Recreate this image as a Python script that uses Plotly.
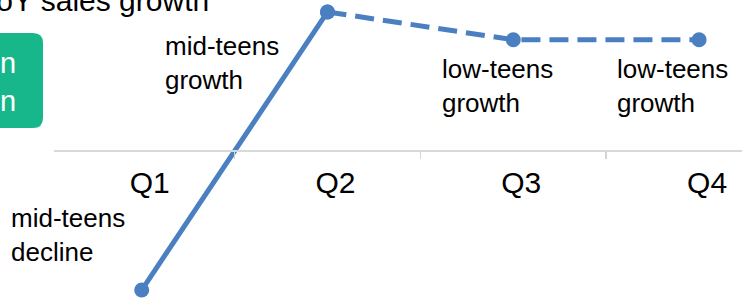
import plotly.graph_objects as go

W, H = 742, 298

# ---- data ----
quarters = ["Q1", "Q2", "Q3", "Q4"]
actual_q = ["Q1", "Q2"]
actual_growth = [-15, 15]          # mid-teens decline -> mid-teens growth
outlook_q = ["Q2", "Q3", "Q4"]
outlook_growth = [15, 12, 12]      # mid-teens -> low-teens -> low-teens
point_labels = ["mid-teens<br>decline", "mid-teens<br>growth",
                "low-teens<br>growth", "low-teens<br>growth"]
title_text = "YoY sales growth"
box_text = "n<br>n"

BLUE = "#4a7fc2"
GREEN = "#17b78b"
FONT = "Liberation Sans, Arial, sans-serif"


def px(x):
    return x / W


def py(y):
    return 1 - y / H


fig = go.Figure()
fig.add_trace(go.Scatter(
    x=actual_q, y=actual_growth, mode="lines+markers",
    line=dict(color=BLUE, width=5),
    marker=dict(color=BLUE, size=15),
    cliponaxis=False, showlegend=False, hoverinfo="skip"))
fig.add_trace(go.Scatter(
    x=outlook_q, y=outlook_growth, mode="lines+markers",
    line=dict(color=BLUE, width=5, dash="19px,9px"),
    marker=dict(color=BLUE, size=15),
    cliponaxis=False, showlegend=False, hoverinfo="skip"))

# green rounded box (cut at left edge)
x0, x1, y0, y1, r = px(-30), px(43), py(33), py(128), 10
rx, ry = r / W, r / H
path = (f"M {x0},{y0} L {x1 - rx},{y0} Q {x1},{y0} {x1},{y0 - ry} "
        f"L {x1},{y1 + ry} Q {x1},{y1} {x1 - rx},{y1} L {x0},{y1} Z")
fig.add_shape(type="path", path=path, xref="paper", yref="paper",
              fillcolor=GREEN, line=dict(width=0), layer="below")

annotations = [
    dict(text=box_text, x=px(18), y=py(82), xanchor="right", yanchor="middle",
         align="right", font=dict(size=29, color="white", family=FONT)),
    dict(text=title_text, x=px(211), y=py(19), xanchor="right", yanchor="bottom",
         font=dict(size=30, color="black", family=FONT)),
]
label_pos = [(9, 235), (163, 63), (440, 86), (615, 86)]
for txt, (lx, ly) in zip(point_labels, label_pos):
    annotations.append(dict(text=txt, x=px(lx), y=py(ly), xanchor="left",
                            yanchor="middle", align="left",
                            font=dict(size=26, color="black", family=FONT)))
for a in annotations:
    a.update(xref="paper", yref="paper", showarrow=False)

# axis scaling: category i at pixel 141.7 + 185.8*i ; zero at y=151
a0, b0 = 141.7, 185.8
dom0 = 54
xr = [(dom0 - a0) / b0, (W - a0) / b0]
zero_px, scale = 151, 9.27
yr = [-(H - zero_px) / scale, zero_px / scale]

fig.update_layout(
    width=W, height=H, margin=dict(l=0, r=0, t=0, b=0),
    paper_bgcolor="white", plot_bgcolor="white",
    font=dict(family=FONT, color="black"),
    annotations=annotations,
    xaxis=dict(type="category", categoryorder="array", categoryarray=quarters,
               tickvals=quarters, ticktext=quarters,
               domain=[dom0 / W, 1], range=xr, anchor="free",
               position=1 - zero_px / H,
               showline=True, linecolor="#d9d9d9", linewidth=2,
               ticks="outside", tickson="boundaries", ticklen=7,
               tickcolor="#d4d4d4", tickwidth=1.5,
               showgrid=False, zeroline=False,
               tickfont=dict(size=30, color="black", family=FONT),
               ticklabelshift=8, ticklabelstandoff=5),
    yaxis=dict(range=yr, showgrid=False, zeroline=False,
               showticklabels=False, ticks=""),
)

fig.write_html("out.html",
               config={"displayModeBar": False, "staticPlot": True},
               post_script="document.body.style.margin='0';"
                           "document.body.style.overflow='hidden';")
